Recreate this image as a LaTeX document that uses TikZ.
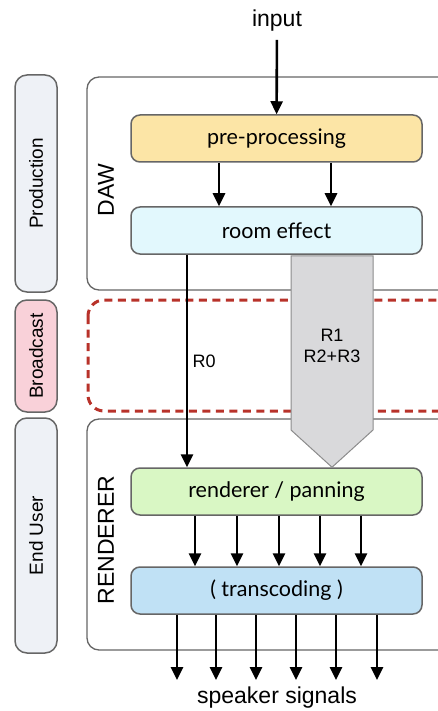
\documentclass[tikz,border=0pt]{standalone}
\usepackage{fontspec}
\setmainfont{Liberation Sans}
\newfontfamily\gillfont{Lato}
\usetikzlibrary{arrows.meta}

\definecolor{preFill}{HTML}{FCE5A6}
\definecolor{roomFill}{HTML}{E2F8FD}
\definecolor{rendFill}{HTML}{D9F7C4}
\definecolor{transFill}{HTML}{C0E1F5}
\definecolor{stageFill}{HTML}{EEF1F6}
\definecolor{castFill}{HTML}{F9D1D9}
\definecolor{boxLine}{HTML}{666666}
\definecolor{castLine}{HTML}{B8322A}
\definecolor{barFill}{HTML}{D9D9DB}
\definecolor{barLine}{HTML}{8C8C8C}

\tikzset{
    proc/.style={draw=boxLine, line width=1.5pt, rounded corners=9pt,
        minimum width=291pt, minimum height=47pt, inner sep=0pt,
        font=\gillfont\fontsize{21.5}{24}\selectfont},
    stage/.style={draw=boxLine, line width=1.5pt, rounded corners=12pt,
        rotate=90, minimum height=42pt, inner sep=0pt,
        font=\fontsize{19}{22}\selectfont},
    frame/.style={draw=boxLine, line width=1.3pt, rounded corners=12pt},
    flow/.style={line width=2.6pt, -{Triangle[width=12pt,length=13pt]}},
}

\begin{document}
\begin{tikzpicture}[x=1pt, y=-1pt, font=\fontsize{23}{27}\selectfont]
    \useasboundingbox (0,0) rectangle (438,711);
    \clip (0,0) rectangle (438,711);

    % stages on the left
    \node[stage, fill=stageFill, minimum width=217pt] (prod) at (36,183.5) {Production};
    \node[stage, fill=castFill, minimum width=112pt] (cast) at (36,356) {Broadcast};
    \node[stage, fill=stageFill, minimum width=235pt] (user) at (36,535.5) {End User};

    % frames
    \draw[frame] (87,77) rectangle (480,290);
    \draw[castLine, line width=3pt, dash pattern=on 8pt off 5.5pt, rounded corners=16pt]
        (88,300) rectangle (480,411);
    \draw[frame] (87,419) rectangle (480,650);
    \node[rotate=90] (daw) at (106,190) {DAW};
    \node[rotate=90] (renderer) at (106,540) {RENDERER};

    % blocks
    \node[proc, fill=preFill] (pre) at (276.5,138.5) {pre-processing};
    \node[proc, fill=roomFill] (room) at (276.5,230.5) {room effect};
    \node[proc, fill=rendFill] (rend) at (276.5,491.5) {renderer / panning};
    \node[proc, fill=transFill] (trans) at (276.5,590.5) {( transcoding )};

    \node[inner sep=8pt] (input) at (277,21) {input};
    \node (spk) at (277,698) {speaker signals};
    \coordinate (out) at (277,680);

    % the two streams
    \draw[fill=barFill, draw=barLine, line width=1pt]
        ([yshift=-1pt]room.south -| 291,0) -- ([yshift=-1pt]room.south -| 373,0)
        -- (373,430) -- (rend.north -| 332,0) -- (291,430) -- cycle;
    \node[align=center, inner sep=0pt, font=\fontsize{18}{21}\selectfont] (rrest) at (332,346) {R1\\R2+R3};
    \draw[flow] (room.south -| 187,0) -- node[right, pos=0.5, xshift=1pt, font=\fontsize{18}{21}\selectfont] (rzero) {R0} (rend.north -| 187,0);

    % connectors
    \draw[flow] (input) -- (pre);
    \foreach \x in {219,331}
        \draw[flow] (pre.south -| \x,0) -- (room.north -| \x,0);
    \foreach \x in {195,237,279,320,361}
        \draw[flow] (rend.south -| \x,0) -- (trans.north -| \x,0);
    \foreach \x in {177,216,256,296,336,377}
        \draw[flow] (trans.south -| \x,0) -- (out -| \x,0);
\end{tikzpicture}
\end{document}
